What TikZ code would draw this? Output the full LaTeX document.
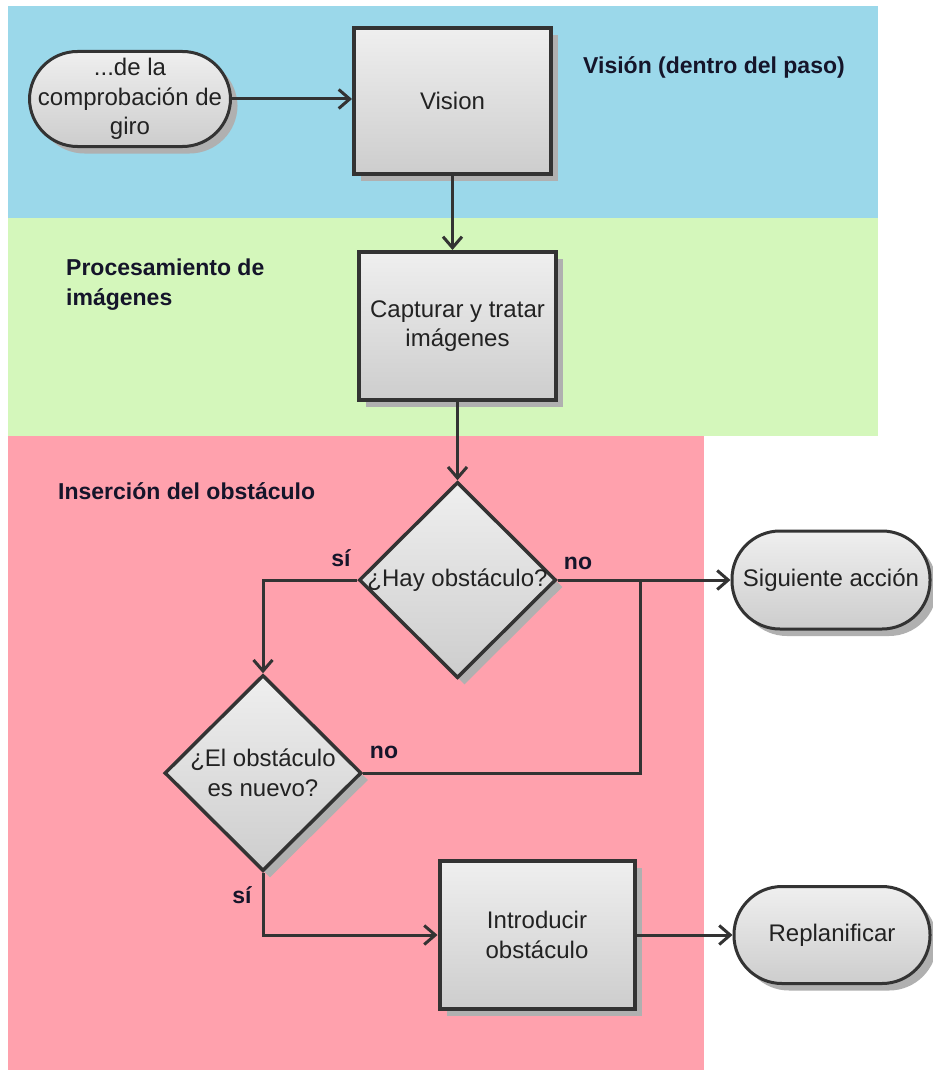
\documentclass[tikz,border=0pt]{standalone}
\usepackage{fontspec}
\setmainfont{Liberation Sans}
\usetikzlibrary{shapes.geometric,arrows.meta,shadows}

\definecolor{laneblue}{HTML}{9BD8EA}
\definecolor{lanegreen}{HTML}{D4F7BB}
\definecolor{lanepink}{HTML}{FFA1AD}
\definecolor{edgegray}{HTML}{333333}
\definecolor{shadegray}{HTML}{B0B0B0}
\definecolor{filltop}{HTML}{EFEFEF}
\definecolor{fillbottom}{HTML}{CDCDCD}
\definecolor{nodetext}{HTML}{222222}
\definecolor{lanetext}{HTML}{15152A}

\begin{document}
\begin{tikzpicture}[x=1pt,y=-1pt,
  flowtext/.style={font=\fontsize{24}{29.5}\selectfont, text=nodetext, align=center},
  flowshade/.style={top color=filltop, bottom color=fillbottom,
    drop shadow={shadow xshift=7pt, shadow yshift=-7pt, fill=shadegray, opacity=1}},
  stepbox/.style={flowtext, flowshade, rectangle, draw=edgegray, line width=4pt, inner sep=0pt},
  terminal/.style={flowtext, flowshade, rectangle, rounded corners=48pt, draw=edgegray, line width=3pt, inner sep=0pt},
  decision/.style={flowshade, diamond, draw=edgegray, line width=3.5pt, inner sep=0pt, aspect=1},
  lanelabel/.style={font=\fontsize{23}{30}\selectfont\bfseries, text=lanetext, align=left, inner sep=0pt},
  branch/.style={font=\fontsize{23}{28}\selectfont\bfseries, text=lanetext, inner sep=0pt},
  link/.style={draw=edgegray, line width=3pt, rounded corners=0pt},
  flow/.style={link, -{Straight Barb[length=11pt, width=19pt, line width=3pt]}}
]
\useasboundingbox (0,0) rectangle (933,1070);
\fill[white] (0,0) rectangle (933,1070);

% swimlanes
\fill[laneblue]  (8,6)   rectangle (878,218);
\fill[lanegreen] (8,218) rectangle (878,436);
\fill[lanepink]  (8,436) rectangle (704,1070);

\node[lanelabel, anchor=base west] (laneVision) at (583,74) {Visión (dentro del paso)};
\node[lanelabel, anchor=north west] (laneProc) at (66,259) {Procesamiento de\\imágenes};
\node[lanelabel, anchor=base west] (laneIns) at (58,499) {Inserción del obstáculo};

% nodes
\node[terminal, minimum width=201pt, minimum height=95pt] (start) at (130,99)
  {...de la\\comprobación de\\giro};
\node[stepbox, minimum width=197pt, minimum height=146pt] (vision) at (452.5,101) {Vision};
\node[stepbox, minimum width=197pt, minimum height=148pt] (capt) at (457.5,326)
  {Capturar y tratar\\imágenes};
\node[decision, minimum width=197pt, minimum height=196pt,
  label={[flowtext]center:¿Hay obstáculo?}] (hay) at (457.5,580) {};
\node[decision, minimum width=197pt, minimum height=196pt,
  label={[flowtext]center:¿El obstáculo\\es nuevo?}] (nuevo) at (263,773) {};
\node[stepbox, minimum width=195pt, minimum height=148pt] (intro) at (537,935)
  {Introducir\\obstáculo};
\node[terminal, minimum width=198pt, minimum height=98pt] (sig) at (831,580) {Siguiente acción};
\node[terminal, minimum width=196pt, minimum height=97pt] (replan) at (832,935) {Replanificar};

\coordinate (join) at (640,580);

% connectors
\draw[flow] (start.east) -- (vision.west |- start.east);
\draw[flow] (vision.south) -- (vision.south |- capt.north);
\draw[flow] (capt.south) -- (hay.north);
\draw[flow] (hay.west) -| (nuevo.north);
\draw[flow] (hay.east) -- (sig.west);
\draw[link] (nuevo.east) -| (join);
\draw[flow] (nuevo.south) |- (intro.west);
\draw[flow] (intro.east) -- (replan.west);

% branch labels
\node[branch] (siA) at (341,558) {sí};
\node[branch] (noA) at (578,563) {no};
\node[branch] (noB) at (384,752) {no};
\node[branch] (siB) at (242,895) {sí};
\end{tikzpicture}
\end{document}
